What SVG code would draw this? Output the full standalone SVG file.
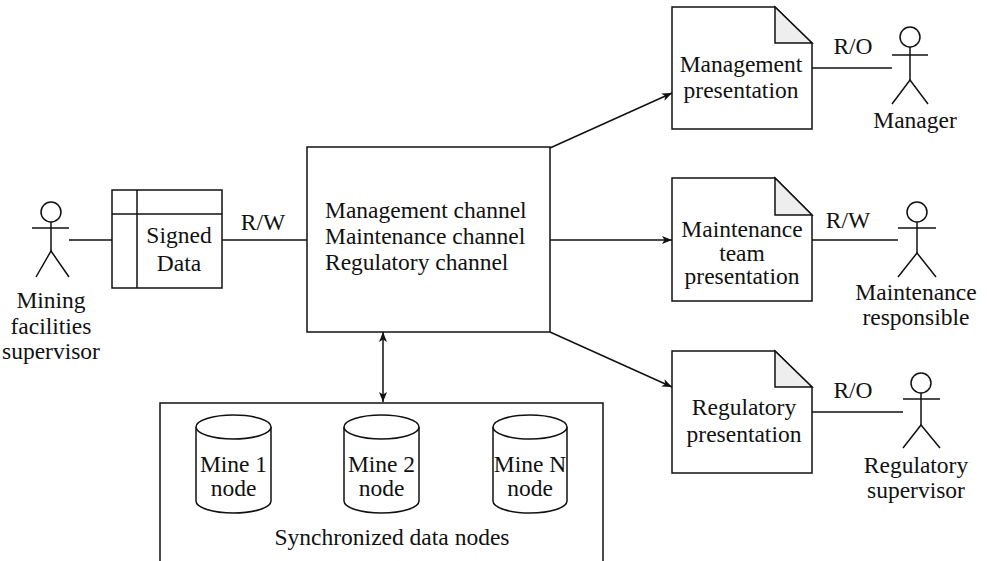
<svg xmlns="http://www.w3.org/2000/svg" width="987" height="561" viewBox="0 0 987 561">
<defs>
<marker id="ah" viewBox="0 0 10 10" refX="10" refY="5" markerWidth="10" markerHeight="10" markerUnits="userSpaceOnUse" orient="auto-start-reverse">
<path d="M0,1 L10,5 L0,9 L2.5,5 Z" fill="#111"/>
</marker>
</defs>
<style>
.s{fill:none;stroke:#111;stroke-width:1.5}
.b{fill:#fff;stroke:#111;stroke-width:1.5}
.f{fill:#eee;stroke:#111;stroke-width:1.5;stroke-linejoin:miter}
text{font-family:'Liberation Serif','DejaVu Serif',serif;font-size:23.5px;fill:#111}
.c{text-anchor:middle}
</style>
<rect width="987" height="561" fill="#fff"/>

<g id="connectors" font-family="Liberation Serif, DejaVu Serif, serif">
<line class="s" x1="69" y1="240" x2="112" y2="240"/>
<line class="s" x1="222" y1="240" x2="307" y2="240"/>
<text class="c" x="263" y="230">R/W</text>
<line class="s" x1="550" y1="148" x2="672" y2="93" marker-end="url(#ah)"/>
<line class="s" x1="550" y1="240" x2="672" y2="240" marker-end="url(#ah)"/>
<line class="s" x1="550" y1="332" x2="672" y2="387" marker-end="url(#ah)"/>
<line class="s" x1="383" y1="332" x2="383" y2="402" marker-start="url(#ah)" marker-end="url(#ah)"/>
<line class="s" x1="812" y1="68" x2="892" y2="68"/>
<text class="c" x="853" y="54">R/O</text>
<line class="s" x1="812" y1="240" x2="898" y2="240"/>
<text class="c" x="848" y="228">R/W</text>
<line class="s" x1="812" y1="412" x2="903" y2="412"/>
<text class="c" x="853" y="398">R/O</text>
</g>

<g id="mining-supervisor">
<circle class="s" cx="51" cy="212" r="10"/>
<line class="s" x1="32" y1="228" x2="69" y2="228"/>
<line class="s" x1="51" y1="222" x2="51" y2="251"/>
<polyline class="s" points="36,277 51,251 69,277"/>
<text class="c" x="51" y="308">Mining</text>
<text class="c" x="51" y="334">facilities</text>
<text class="c" x="51" y="359">supervisor</text>
</g>

<g id="signed-data">
<rect class="b" x="112" y="190" width="110" height="98"/>
<line class="s" x1="137" y1="190" x2="137" y2="288"/>
<line class="s" x1="112" y1="214" x2="222" y2="214"/>
<text class="c" x="179" y="243">Signed</text>
<text class="c" x="179" y="271">Data</text>
</g>

<g id="channels">
<rect class="b" x="307" y="147" width="243" height="185"/>
<text x="325" y="218">Management channel</text>
<text x="325" y="244">Maintenance channel</text>
<text x="325" y="270">Regulatory channel</text>
</g>

<g id="data-nodes">
<path class="s" d="M160,561 L160,403 L603,403 L603,561"/>
<text class="c" x="392" y="545">Synchronized data nodes</text>
</g>

<g id="mine1">
<path class="b" d="M196,427 L196,501 A37.5,12 0 0 0 271,501 L271,427"/>
<ellipse class="b" cx="233.5" cy="427" rx="37.5" ry="12"/>
<text class="c" x="233.5" y="472">Mine 1</text>
<text class="c" x="233.5" y="496">node</text>
</g>
<g id="mine2">
<path class="b" d="M344,427 L344,501 A37.5,12 0 0 0 419,501 L419,427"/>
<ellipse class="b" cx="381.5" cy="427" rx="37.5" ry="12"/>
<text class="c" x="381.5" y="472">Mine 2</text>
<text class="c" x="381.5" y="496">node</text>
</g>
<g id="mineN">
<path class="b" d="M493,427 L493,501 A37,12 0 0 0 567,501 L567,427"/>
<ellipse class="b" cx="530" cy="427" rx="37" ry="12"/>
<text class="c" x="530" y="472">Mine N</text>
<text class="c" x="530" y="496">node</text>
</g>

<g id="management-presentation">
<path class="b" d="M672,7 L775,7 L812,43 L812,129 L672,129 Z"/>
<path class="f" d="M775,7 L775,43 L812,43 Z"/>
<text class="c" x="741" y="72">Management</text>
<text class="c" x="741" y="98">presentation</text>
</g>

<g id="maintenance-presentation">
<path class="b" d="M672,178 L775,178 L812,215 L812,301 L672,301 Z"/>
<path class="f" d="M775,178 L775,215 L812,215 Z"/>
<text class="c" x="742" y="237">Maintenance</text>
<text class="c" x="742" y="260.5">team</text>
<text class="c" x="742" y="284">presentation</text>
</g>

<g id="regulatory-presentation">
<path class="b" d="M672,351 L775,351 L812,387 L812,473 L672,473 Z"/>
<path class="f" d="M775,351 L775,387 L812,387 Z"/>
<text class="c" x="744" y="415">Regulatory</text>
<text class="c" x="744" y="442">presentation</text>
</g>

<g id="manager">
<circle class="s" cx="910" cy="37" r="10"/>
<line class="s" x1="892" y1="55" x2="928" y2="55"/>
<line class="s" x1="910" y1="47" x2="910" y2="80"/>
<polyline class="s" points="892,104 910,80 928,104"/>
<text class="c" x="915" y="128">Manager</text>
</g>

<g id="maintenance-responsible">
<circle class="s" cx="917" cy="212" r="10"/>
<line class="s" x1="898" y1="228" x2="936" y2="228"/>
<line class="s" x1="917" y1="222" x2="917" y2="253"/>
<polyline class="s" points="898,277 917,253 936,277"/>
<text class="c" x="916" y="300">Maintenance</text>
<text class="c" x="916" y="325">responsible</text>
</g>

<g id="regulatory-supervisor">
<circle class="s" cx="921" cy="383" r="10"/>
<line class="s" x1="903" y1="399" x2="940" y2="399"/>
<line class="s" x1="921" y1="393" x2="921" y2="425"/>
<polyline class="s" points="903,448 921,425 940,448"/>
<text class="c" x="916" y="473">Regulatory</text>
<text class="c" x="916" y="498">supervisor</text>
</g>
</svg>
